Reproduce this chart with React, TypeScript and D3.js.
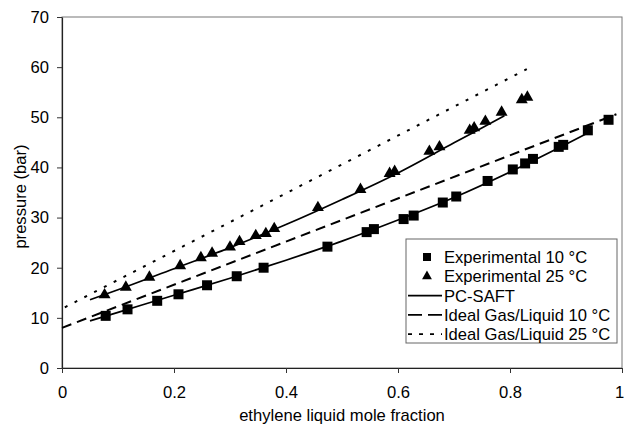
import React, { useEffect, useRef } from "react";
import * as d3 from "d3";

const width = 624;
const height = 425;

// experimental data, 10 °C
const exp10X = [0.078, 0.117, 0.170, 0.208, 0.259, 0.312, 0.360, 0.474, 0.544, 0.557, 0.610, 0.628, 0.680, 0.704, 0.760, 0.805, 0.827, 0.841, 0.887, 0.895, 0.939, 0.976];
const exp10P = [10.4, 11.7, 13.4, 14.7, 16.5, 18.3, 20.0, 24.2, 27.1, 27.7, 29.7, 30.4, 33.0, 34.2, 37.3, 39.6, 40.8, 41.7, 44.1, 44.5, 47.4, 49.5];

// experimental data, 25 °C
const exp25X = [0.076, 0.114, 0.156, 0.211, 0.248, 0.268, 0.300, 0.317, 0.346, 0.364, 0.379, 0.457, 0.533, 0.585, 0.594, 0.656, 0.674, 0.728, 0.736, 0.756, 0.785, 0.821, 0.831];
const exp25P = [14.6, 16.1, 18.1, 20.4, 22.0, 22.9, 24.1, 25.2, 26.4, 26.8, 27.8, 32.0, 35.6, 38.8, 39.2, 43.2, 44.1, 47.4, 47.9, 49.2, 51.0, 53.5, 54.0];

// PC-SAFT model curves
const saft10X = [0.05, 0.1, 0.2, 0.3, 0.4, 0.5, 0.6, 0.7, 0.8, 0.9, 0.945];
const saft10P = [9.4, 11.1, 14.5, 17.9, 21.5, 25.3, 29.5, 34.0, 39.1, 44.6, 47.2];
const saft25X = [0.05, 0.1, 0.2, 0.3, 0.4, 0.5, 0.6, 0.7, 0.79];
const saft25P = [13.6, 15.6, 19.8, 24.0, 28.6, 33.6, 38.9, 44.9, 50.3];

// ideal gas/liquid lines
const ideal10X = [0, 0.99];
const ideal10P = [8.0, 50.6];
const ideal25X = [0.005, 0.83];
const ideal25P = [12.1, 59.6];

const xTicks = [0, 0.2, 0.4, 0.6, 0.8, 1];
const xTickLabels = ["0", "0.2", "0.4", "0.6", "0.8", "1"];
const yTicks = [0, 10, 20, 30, 40, 50, 60, 70];

const legendLabels = [
  "Experimental 10 °C",
  "Experimental 25 °C",
  "PC-SAFT",
  "Ideal Gas/Liquid 10 °C",
  "Ideal Gas/Liquid 25 °C",
];

const font = "'Liberation Sans', Arial, sans-serif";
const fs = 16.6;

export default function App() {
  const ref = useRef<SVGSVGElement>(null);

  useEffect(() => {
    const svg = d3.select(ref.current);
    svg.selectAll("*").remove();

    const x = d3.scaleLinear().domain([0, 1]).range([62, 622]);
    const y = d3.scaleLinear().domain([0, 70]).range([368, 17]);

    // plot frame
    svg.append("rect")
      .attr("x", x(0)).attr("y", y(70))
      .attr("width", x(1) - x(0)).attr("height", y(0) - y(70))
      .attr("fill", "none").attr("stroke", "#777").attr("stroke-width", 1);

    const gy = svg.append("g")
      .attr("transform", `translate(${x(0)},0)`)
      .call(d3.axisLeft(y).tickValues(yTicks).tickSize(5).tickSizeOuter(0).tickPadding(8).tickFormat((d) => String(d)));
    const gx = svg.append("g")
      .attr("transform", `translate(0,${y(0)})`)
      .call(d3.axisBottom(x).tickValues(xTicks).tickSize(5).tickSizeOuter(0).tickPadding(13).tickFormat((d, i) => xTickLabels[i]));
    [gx, gy].forEach((g) => {
      g.attr("font-size", fs).attr("font-family", font);
      g.selectAll("line").attr("stroke", "#333");
      g.select(".domain").attr("stroke", "#222").attr("stroke-width", 1.2);
    });
    // last x label sits on the right edge; nudge it inside
    gx.selectAll("text").filter((d) => d === 1).attr("dx", -3);

    // axis titles
    svg.append("text")
      .attr("x", (x(0) + x(1)) / 2).attr("y", 421)
      .attr("text-anchor", "middle").attr("font-size", fs).attr("font-family", font)
      .text("ethylene liquid mole fraction");
    svg.append("text")
      .attr("transform", `translate(26,${y(35) + 4}) rotate(-90)`)
      .attr("text-anchor", "middle").attr("font-size", fs).attr("font-family", font)
      .text("pressure (bar)");

    const line = d3.line<[number, number]>().x((d) => x(d[0])).y((d) => y(d[1]));
    const drawLine = (xs: number[], ps: number[], dash: string | null, w: number) => {
      svg.append("path")
        .attr("d", line(xs.map((v, i) => [v, ps[i]] as [number, number])))
        .attr("fill", "none").attr("stroke", "#000").attr("stroke-width", w)
        .attr("stroke-dasharray", dash);
    };
    const smooth = d3.line<[number, number]>().x((d) => x(d[0])).y((d) => y(d[1])).curve(d3.curveMonotoneX);
    const drawCurve = (xs: number[], ps: number[]) => {
      svg.append("path")
        .attr("d", smooth(xs.map((v, i) => [v, ps[i]] as [number, number])))
        .attr("fill", "none").attr("stroke", "#000").attr("stroke-width", 1.7);
    };

    drawLine(ideal25X, ideal25P, "3,8", 2);
    drawLine(ideal10X, ideal10P, "10,6", 2);
    drawCurve(saft10X, saft10P);
    drawCurve(saft25X, saft25P);

    const square = d3.symbol().type(d3.symbolSquare).size(100);
    const triangle = d3.symbol().type(d3.symbolTriangle).size(62);

    svg.append("g").selectAll("path")
      .data(exp10X)
      .enter()
      .append("path")
      .attr("d", square())
      .attr("transform", (d, i) => `translate(${x(d)},${y(exp10P[i])})`)
      .attr("fill", "#000");

    svg.append("g").selectAll("path")
      .data(exp25X)
      .enter()
      .append("path")
      .attr("d", triangle())
      .attr("transform", (d, i) => `translate(${x(d)},${y(exp25P[i])})`)
      .attr("fill", "#000");

    // legend
    const lg = svg.append("g").attr("transform", "translate(406,239)");
    lg.append("rect")
      .attr("width", 211).attr("height", 104)
      .attr("fill", "#fff").attr("stroke", "#666").attr("stroke-width", 1);
    const rowY = (i: number) => 18 + i * 19.3;
    legendLabels.forEach((label, i) => {
      lg.append("text")
        .attr("x", 38).attr("y", rowY(i) + 6)
        .attr("font-size", fs).attr("font-family", font)
        .text(label);
    });
    lg.append("path").attr("d", d3.symbol().type(d3.symbolSquare).size(64)())
      .attr("transform", `translate(21,${rowY(0)})`).attr("fill", "#000");
    lg.append("path").attr("d", d3.symbol().type(d3.symbolTriangle).size(42)())
      .attr("transform", `translate(21,${rowY(1)})`).attr("fill", "#000");
    const sample = (i: number, dash: string | null) => {
      lg.append("line")
        .attr("x1", 2).attr("x2", 36).attr("y1", rowY(i)).attr("y2", rowY(i))
        .attr("stroke", "#000").attr("stroke-width", 1.7).attr("stroke-dasharray", dash);
    };
    sample(2, null);
    sample(3, "14,6");
    sample(4, "4,7");
  }, []);

  return (
    <svg
      ref={ref}
      width={width}
      height={height}
      style={{ position: "absolute", left: 0, top: 0, background: "#fff" }}
    />
  );
}
